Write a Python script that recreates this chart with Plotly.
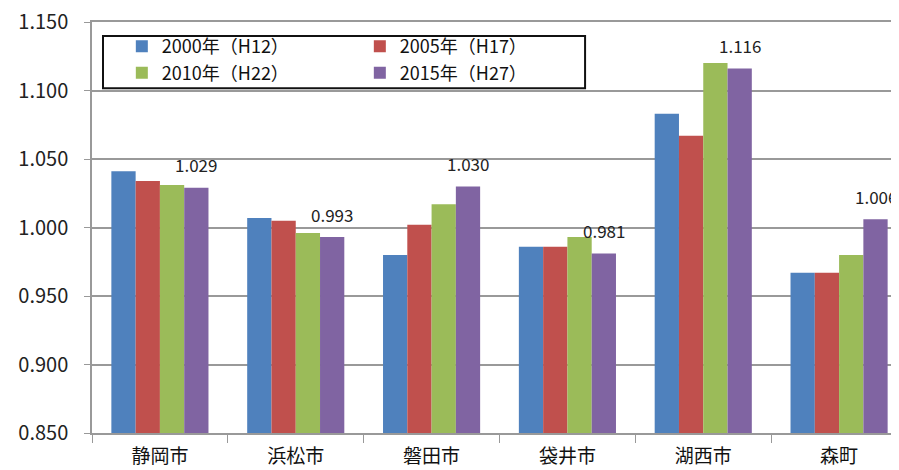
import plotly.graph_objects as go

cities = ['静岡市', '浜松市', '磐田市', '袋井市', '湖西市', '森町']
series_names = ['2000年（H12）', '2005年（H17）', '2010年（H22）', '2015年（H27）']
v2000 = [1.041, 1.007, 0.980, 0.986, 1.083, 0.967]
v2005 = [1.034, 1.005, 1.002, 0.986, 1.067, 0.967]
v2010 = [1.031, 0.996, 1.017, 0.993, 1.120, 0.980]
v2015 = [1.029, 0.993, 1.030, 0.981, 1.116, 1.006]
colors = ['#4F81BD', '#C0504D', '#9BBB59', '#8064A2']

FONT = 'Noto Sans CJK JP'
W, H = 899, 470
ML, MT, MB = 84, 14, 45   # page body has an 8px margin, so pull the plot back
BARGAP = 0.285
XMAX = 5.5

fig = go.Figure()
all_vals = [v2000, v2005, v2010, v2015]
for i, (name, vals) in enumerate(zip(series_names, all_vals)):
    fig.add_trace(go.Bar(
        x=cities, y=vals, name=name,
        marker=dict(color=colors[i], line=dict(width=0)),
        legend='legend' if i in (0, 1) else 'legend2',
    ))

# value labels above the 2015 bars (4th bar of each group)
cat_px = (W - ML) / (XMAX + 0.5)
bar_px = cat_px * (1 - BARGAP) / 4
for c, v in zip(cities, v2015):
    fig.add_annotation(
        x=c, y=v, xref='x', yref='y', text='%.3f' % v,
        showarrow=False, xshift=1.5 * bar_px, yshift=23, yanchor='middle',
        font=dict(size=17, color='#222', family=FONT),
    )

legend_style = dict(
    orientation='h', xanchor='left', yanchor='middle',
    font=dict(size=18, family=FONT, color='#111'),
    bgcolor='rgba(0,0,0,0)', borderwidth=0,
    entrywidth=193, itemwidth=30, tracegroupgap=0,
)

fig.update_layout(
    width=W, height=H,
    margin=dict(l=ML, r=0, t=MT, b=MB, autoexpand=False),
    paper_bgcolor='white', plot_bgcolor='white',
    barmode='group', bargap=BARGAP, bargroupgap=0,
    font=dict(family=FONT, color='#222'),
    legend=dict(x=0.0366, y=0.94, **legend_style),
    legend2=dict(x=0.0366, y=0.876, **legend_style),
    shapes=[dict(type='rect', xref='paper', yref='paper',
                 x0=0.0135, x1=0.605, y0=0.839, y1=0.966,
                 line=dict(color='#111', width=2), fillcolor='rgba(0,0,0,0)')],
)

fig.update_yaxes(
    range=[0.85, 1.15], tickmode='array',
    tickvals=[0.85, 0.90, 0.95, 1.00, 1.05, 1.10, 1.15], tickformat='.3f',
    showgrid=True, gridcolor='#999', gridwidth=1.5,
    showline=True, linecolor='#999', linewidth=1.5,
    ticks='outside', ticklen=6, tickcolor='#999', ticklabelstandoff=12,
    ticklabeloverflow='allow',
    tickfont=dict(size=20, family=FONT, color='#222'),
    zeroline=False, automargin=False,
)
fig.update_xaxes(
    range=[-0.5, XMAX],
    showline=True, linecolor='#999', linewidth=1.5, mirror=True,
    ticks='outside', ticklen=8, tickcolor='#999', tickson='boundaries',
    ticklabelstandoff=5, ticklabeloverflow='allow',
    tickfont=dict(size=19, family=FONT, color='#111'),
    automargin=False,
)

fig.write_html("out.html")
